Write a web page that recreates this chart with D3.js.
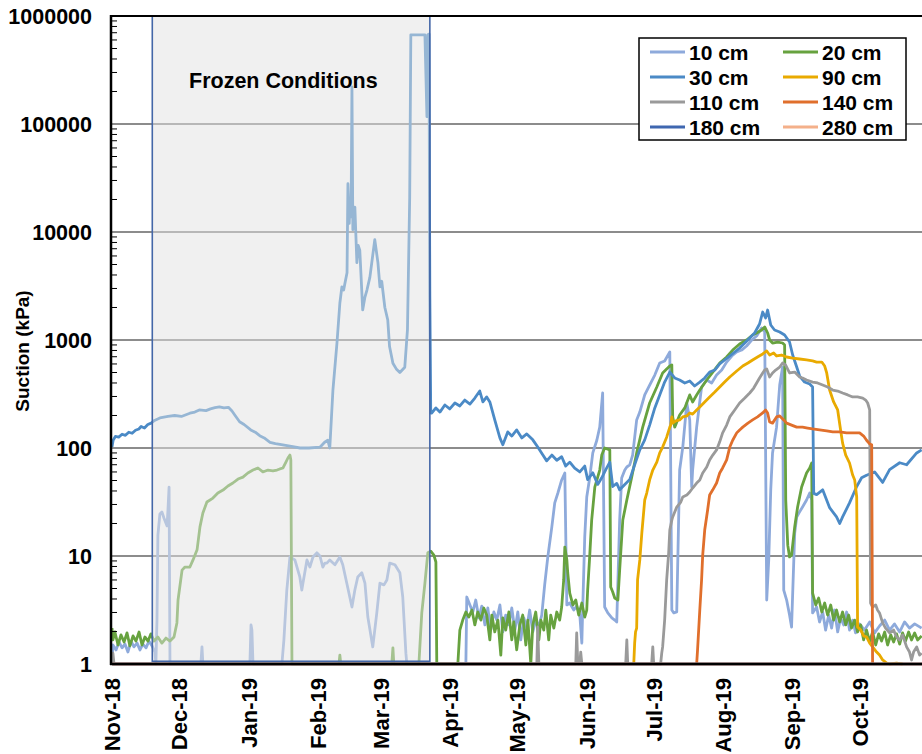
<!DOCTYPE html>
<html>
<head>
<meta charset="utf-8">
<script src="https://cdn.jsdelivr.net/npm/d3@7"></script>
<style>
  body { margin: 0; background: #fff; }
  svg { display: block; font-family: "Liberation Sans", Arial, sans-serif; font-weight: bold; }
</style>
</head>
<body>
<svg id="chart" width="922" height="754"></svg>
<script>
// days since 1 Nov 2018, suction in kPa
var s10 = [[0,1],[0.4,1.5],[1.8,1.35],[3.1,1.6],[4.5,1.41],[5.8,1.53],[7.1,1.29],[8.5,1.63],[9.8,1.44],[11.2,1.56],[12.5,1.35],[13.8,1.53],[15.2,1.41],[16.5,1.63],[17.9,1.47],[19.2,1.29],[19.6,1],
  [20.1,2.55],[20.5,15.6],[21.4,24.5],[22.3,25.6],[23.2,22.5],[24.6,19],[25.0,26.7],[25.5,43.5],[25.9,1],
  [39.7,1],[40.2,1.44],[40.6,1],[61.6,1],[62.1,2.3],[62.5,2.06],[63.0,1],[75.9,1],[76.8,1.67],[78.1,4.84],[79.5,9.8],[81.7,9.2],[83.9,6.4],[84.8,4.84],[85.3,5.6],[87.1,9.2],[88.4,7.9],[89.8,9.8],[91.5,10.7],[92.9,10],[94.2,7.9],[95.1,8.6],[96.0,8.6],[97.3,9.2],[99.6,8.3],[101.8,9.8],[103.1,8.3],[104.9,5.6],[107.2,3.37],[108.5,4.84],[109.8,6.4],[111.6,7.0],[113.0,5.6],[114.3,2.72],[116.5,1.44],[118.3,2.97],[119.7,5.6],[121.5,5.4],[122.8,6.0],[124.1,8.6],[126.4,8.3],[128.6,7.0],[129.9,4.17],[131.3,1.26],[131.7,1],
  [158.1,1],[158.5,4.17],[159.9,3.52],[161.2,3.03],[162.5,3.91],[163.9,2.67],[165.2,3.44],[166.6,2.3],[167.9,3.3],[169.2,2.06],[170.6,3.03],[171.9,2.55],[173.3,3.52],[174.6,1.98],[175.9,2.84],[177.3,2.3],[178.6,3.3],[180.0,2.06],[181.3,3.03],[182.6,1.67],[184.0,2.67],[185.3,2.15],[186.6,3.16],[188.0,1.98],[189.3,2.55],[190.7,2.25],[192.0,2.84],[193.3,5.4],[194.7,9.8],[196.5,18.6],[197.8,31],[199.2,38.3],[200.9,50.6],[202.3,58.7],[203.2,3.52],[204.5,3.67],[206.3,3.16],[207.6,3.44],[209.0,2.84],[209.9,1.56],[210.3,3.3],[211.2,15],[212.1,35.2],[213.4,52.7],[214.8,90],[216.6,118],[217.9,156],[219.2,323],[220.1,3.37],[221.5,2.97],[223.3,2.67],[224.6,2.55],[225.5,2.45],[226.8,21.5],[227.7,52.7],[229.1,62.5],[230.0,66.7],[231.3,69.7],[232.6,86],[234.4,182],[235.8,215],[238.0,310],[240.2,383],[242.5,474],[244.7,612],[246.9,640],[249.2,774],[250.1,3.16],[251.0,2.97],[252.3,3.03],[253.6,62.5],[255.0,102],[256.8,261],[258.1,182],[259.0,43.5],[259.4,62.5],[261.2,156],[263.4,367],[265.7,426],[267.9,400],[270.1,474],[272.4,527],[274.6,625],[276.9,711],[279.1,774],[281.3,807],[283.5,880],[285.8,1000],[288.0,1089],[290.2,1292],[291.6,1186],[292.5,3.91],[293.4,9.2],[294.3,41],[295.1,90],[296.9,156],[298.3,383],[299.6,562],[300.1,4.84],[301.4,3.91],[302.7,2.84],[303.6,2.2],[305.0,16.3],[305.9,23],[307.2,25.6],[308.5,28.4],[310.3,33],[311.7,38.3],[312.6,33],[313.0,2.97],[314.8,3.37],[316.1,2.45],[317.5,3.03],[318.8,2.06],[320.2,2.84],[321.5,2.15],[322.8,3.16],[324.2,1.98],[325.5,2.67],[326.9,2.3],[328.2,3.03],[329.5,2.06],[330.9,2.55],[332.2,1.94],[334.0,2.35],[336.2,2.06],[338.5,2.45],[340.7,1.94],[342.9,2.25],[345.2,2.55],[347.4,2.06],[349.6,2.35],[351.9,1.98],[354.1,2.45],[356.3,2.15],[358.6,2.35],[361.7,2.15]];

var s20 = [[0,2.15],[0.4,1.67],[1.3,1.98],[2.7,1.5],[4.0,1.86],[5.4,1.6],[6.7,1.94],[8.0,1.47],[9.4,1.82],[10.7,1.63],[12.1,1.98],[13.4,1.5],[14.7,1.78],[16.1,1.63],[17.4,1.9],[18.8,1.63],
  [20.5,1.78],[22.3,1.56],[24.1,1.74],[25.9,1.63],[27.7,1.78],[29.0,2.4],[29.5,3.91],[31.3,7.4],[32.6,7.9],[34.8,7.9],[36.2,9.2],[38.0,11.4],[39.3,18.6],[40.6,25],[42.4,31.6],[45.1,34.4],[47.3,38.3],[49.6,40.8],[51.8,44.5],[54.0,47.4],[56.3,51.6],[58.5,53.8],[60.7,58.7],[63.0,62.5],[65.2,65.3],[67.4,60],[69.7,62.5],[71.9,61.3],[73.7,62.5],[75.0,64],[76.4,65.3],[77.7,74],[78.6,80.8],[79.5,86],[79.9,77.5],[80.4,1],
  [101.4,1],[101.8,1.21],[102.2,1],[125.0,1],[125.5,1.41],[125.9,1],[137.1,1],[138.4,2.97],[139.8,5.6],[141.1,10.7],[142.4,11.1],[143.8,10.2],[144.7,8.8],[145.1,1],
  [154.5,1],[155.4,2.06],[156.7,2.55],[158.1,3.03],[159.4,2.72],[160.8,3.16],[162.1,2.3],[163.4,3.03],[164.8,2.55],[166.1,3.3],[167.4,2.84],[168.8,1.67],[169.7,2.84],[171.0,1.98],[172.4,2.55],[173.7,1.21],[174.6,2.67],[175.9,2.06],[177.3,3.03],[178.6,1.67],[179.5,2.45],[180.8,1.35],[182.2,2.3],[183.5,2.84],[184.9,1.5],[185.8,2.55],[187.1,1],[188.0,2.3],[189.3,3.03],[190.7,1.67],[191.6,2.55],[192.9,2.06],[193.8,3.16],[195.1,1.67],[196.0,2.84],[197.4,2.15],[198.7,3.03],[200.0,2.55],[200.9,3.37],[201.8,6.0],[202.3,12.1],[203.2,9.2],[203.6,7.0],[204.5,4.54],[205.9,3.52],[207.2,3.91],[208.5,2.84],[209.9,3.67],[211.2,2.72],[212.1,3.16],[212.5,4.84],[213.4,9.8],[214.3,21.5],[215.7,43.5],[217.9,62.5],[218.8,86],[220.1,100],[222.4,96],[222.8,5.16],[223.7,4.64],[224.6,4.08],[226.0,3.91],[226.8,7.4],[228.2,21.5],[230.0,33],[232.2,53.8],[234.4,90],[237.1,156],[240.2,261],[243.4,367],[246.0,495],[247.8,539],[249.2,574],[250.1,587],[250.5,194],[251.4,156],[253.6,202],[255.9,235],[258.1,310],[259.4,267],[261.2,310],[262.6,344],[265.7,426],[268.4,505],[271.5,612],[274.6,696],[277.3,807],[280.4,918],[283.5,1000],[286.2,1112],[288.0,1161],[290.2,1238],[291.6,1320],[292.9,1161],[293.8,1000],[295.1,938],[297.4,958],[299.6,938],[300.5,899],[301.0,33],[301.9,12.6],[302.7,9.8],[303.6,10.2],[305.0,18.6],[306.3,28.4],[308.1,43.5],[310.3,58.7],[311.7,65.3],[312.6,72.6],[313.0,4.54],[314.4,3.52],[315.7,4.08],[317.1,3.03],[318.4,3.67],[319.7,2.84],[321.1,3.52],[322.4,2.55],[323.7,3.16],[325.1,2.45],[326.4,3.03],[327.8,2.3],[329.1,2.84],[330.4,2.15],[331.8,2.55],[333.1,1.98],[334.5,2.3],[335.8,1.67],[337.1,2.06],[338.5,1.6],[339.8,1.98],[341.2,1.5],[342.5,1.9],[343.8,1.63],[345.2,1.98],[346.5,1.5],[347.9,1.86],[349.2,1.6],[350.5,1.9],[351.9,1.53],[353.2,1.94],[354.5,1.63],[355.9,1.98],[357.2,1.67],[358.6,1.94],[359.9,1.67],[361.7,1.82]];

var s30 = [[0,102],[0.5,118],[1.5,128],[3,126],[4.5,134],[6,131],[7.5,140],[9,137],[10.5,146],[12,150],[13,158],[14.5,153],[16,165],[17.5,170],[19,180],
  [21.4,190],[25,196],[28,200],[31,196],[34.8,210],[37,215],[39,225],[42,222],[44,230],[46,236],[48,240],[50,235],[52,238],[53.6,220],[55,200],[57,175],[59,165],[62,147],[64,140],[66,130],[68,124],[70.6,113],[73,110],[75,108],[79.5,104],[84,100],[88,100],[93,102],[95,113],[96.4,118],[97.3,100],[98.7,344],[100.5,935],[101.8,2200],[102.7,3100],[103.5,2900],[104,3300],[105,4200],[105.4,28000],[106,12000],[106.3,20000],[106.8,13800],[107.2,220000],[107.6,10500],[108.5,17000],[109.4,5200],[110,7500],[110.7,6800],[112,1900],[113,2500],[113.9,2900],[115.2,3800],[117.4,8500],[118.8,5200],[119.7,3100],[120.5,3500],[121.9,2000],[123.2,1530],[124,870],[125.5,610],[127,540],[128.6,500],[130.8,560],[132,1250],[133,21000],[133.5,670000],[139.8,670000],[140.7,117000],[141.1,670000],[141.6,680000],[142,2500],[142.4,211],
  [142.9,211],[144.7,235],[146.5,215],[148.7,250],[150.9,230],[153.2,261],[155.4,245],[157.6,278],[159.9,255],[162.1,290],[164.3,337],[165.7,267],[167.4,297],[168.8,267],[171.0,182],[173.3,124],[174.6,107],[176.8,141],[178.6,129],[180.8,147],[183.1,124],[185.3,135],[188.0,119],[190.2,102],[192.5,86],[194.2,76],[196.5,86],[198.7,77],[200.9,83],[202.7,68],[204.5,74],[206.7,65],[209.0,60],[211.2,68],[212.5,51],[214.8,59],[217.0,46],[218.8,53],[220.6,63],[222.4,74],[223.7,44],[225.5,47],[226.8,41],[229.1,46],[231.3,51],[233.5,70],[235.8,96],[238.0,119],[240.2,163],[242.5,235],[244.7,310],[246.9,408],[249.2,505],[251.4,445],[253.6,426],[255.9,400],[258.1,417],[260.3,375],[262.6,408],[264.8,445],[267.0,505],[269.3,527],[271.5,600],[273.7,653],[276.0,711],[278.2,774],[280.4,843],[282.7,938],[284.9,1044],[287.1,1161],[289.3,1407],[290.7,1816],[292.0,1600],[292.9,1896],[294.3,1377],[296.0,1238],[298.3,1186],[300.5,1112],[302.7,958],[304.1,726],[305.9,562],[307.2,464],[309.4,408],[311.7,391],[313.0,367],[313.5,38],[314.8,37],[317.5,41],[320.6,28],[323.7,23],[325.1,20],[326.4,23],[329.5,31],[332.7,44],[334.9,53],[337.1,56],[340.7,60],[344.3,48],[347.4,63],[351.9,73],[355.0,70],[359.5,90],[361.7,96]];

var s90 = [[233.1,1],[233.5,1.56],[233.9,1.98],[234.4,2.15],[234.8,6.0],[235.8,9.2],[236.7,16.3],[238.0,33],[238.9,38.3],[240.2,50.6],[241.6,62.5],[243.4,74],[244.7,90],[246.0,102],[247.8,126],[249.2,156],[249.6,163],[250.1,194],[250.5,170],[251.9,178],[253.6,182],[255.0,194],[256.8,198],[258.1,211],[259.4,206],[261.2,225],[262.6,240],[264.8,267],[267.0,297],[269.3,330],[271.5,367],[273.7,408],[276.0,454],[279.1,516],[281.8,574],[284.1,612],[286.2,653],[288.4,696],[290.7,742],[292.5,791],[293.8,726],[295.6,758],[296.9,711],[299.1,726],[301.4,696],[304.1,681],[307.2,667],[310.3,653],[313.0,640],[314.8,625],[317.1,625],[318.4,574],[319.3,495],[320.6,344],[322.4,267],[324.2,225],[325.5,147],[326.4,111],[327.8,86],[329.5,72.6],[330.9,56.2],[331.8,50.6],[332.7,35.2],[333.1,2.2],[334.5,2.06],[335.8,1.82],[337.1,1.78],[338.5,1.56],[339.8,1.44],[341.6,1.29],[342.9,1.21],[344.3,1.09],[346.1,1.02],[347.4,1],[350.5,1.02],[353.2,1]];

var s110 = [[0,1],[0.4,1.26],[0.9,1],[189.8,1],[190.2,2.2],[190.7,1],[207.2,1],[207.6,1.94],[208.1,1],[209.0,1],[209.4,1.29],[209.9,1],[229.5,1],[230.0,1.67],[230.4,1],[241.1,1],[241.6,1.44],[242.0,1],
  [245.1,1],[245.6,1.26],[246.0,1.44],[246.9,2.55],[247.8,6.0],[248.7,10.7],[249.2,17.4],[250.1,21.5],[250.5,23],[252.3,28.4],[254.1,31.6],[255.0,35.2],[256.8,36.7],[258.1,39.1],[259.4,42.6],[261.2,47.4],[262.6,50.6],[263.9,58.7],[265.7,66.7],[267.0,77.5],[268.4,86],[270.1,96],[271.5,114],[272.8,138],[274.6,163],[276.0,194],[278.2,225],[280.4,261],[282.7,290],[284.9,323],[286.7,359],[288.0,400],[289.3,445],[290.7,495],[291.6,527],[292.5,539],[293.8,454],[295.1,495],[296.5,527],[298.3,562],[299.6,612],[300.9,587],[302.7,495],[305.0,505],[307.2,454],[308.5,445],[310.3,426],[313.0,408],[315.2,400],[317.5,383],[319.7,367],[322.0,344],[324.2,337],[326.4,323],[328.7,310],[330.9,297],[333.1,297],[335.4,290],[336.7,278],[337.6,261],[338.5,225],[338.9,3.67],[339.8,3.37],[341.2,3.52],[342.0,3.16],[342.9,2.97],[344.3,2.4],[345.6,2.15],[347.4,1.94],[349.2,2.06],[350.5,1.78],[351.9,1.67],[353.2,1.86],[355.0,1.44],[356.3,1.29],[357.2,1.09],[358.1,1.29],[359.5,1.44],[360.8,1.21],[361.7,1.26]];

var s140 = [[261.2,1],[261.6,1.35],[262.6,3.16],[263.4,6.0],[263.9,10.2],[264.8,17.4],[266.1,26.7],[267.0,36.7],[268.4,41],[270.1,47.4],[271.5,58.7],[272.8,65.3],[274.6,77.5],[276.0,102],[277.3,118],[279.1,138],[280.4,147],[281.8,156],[284.1,170],[286.2,182],[288.4,194],[290.7,211],[292.0,225],[292.9,211],[293.8,174],[295.1,170],[296.9,194],[298.3,198],[300.1,182],[301.4,170],[303.6,163],[305.9,156],[308.5,156],[310.8,153],[313.0,150],[316.1,147],[319.3,144],[322.0,141],[325.1,141],[328.2,138],[330.9,138],[334.0,138],[335.8,129],[337.1,118],[338.5,109],[339.4,107],[339.8,1]];

var s180 = [[0,1],[365,1]];
var s280 = [[0,1],[365,1]];

var seriesNames = ["10 cm", "20 cm", "30 cm", "90 cm", "110 cm", "140 cm", "180 cm", "280 cm"];
var seriesColors = ["#8eaadb", "#67a23f", "#4b8ac6", "#e9aa00", "#9a9a9a", "#e06f2c", "#3f67b0", "#f4b08a"];
var seriesData = [s10, s20, s30, s90, s110, s140, s180, s280];

var tickMonths = ["Nov-18", "Dec-18", "Jan-19", "Feb-19", "Mar-19", "Apr-19", "May-19", "Jun-19", "Jul-19", "Aug-19", "Sep-19", "Oct-19"];
var yTicks = [1, 10, 100, 1000, 10000, 100000, 1000000];

var frozenStart = "2018-11-19", frozenEnd = "2019-03-23";
var frozenLabel = "Frozen Conditions";

(function() {
  var t0 = new Date(2018, 10, 1);
  var toDate = function(d) { return new Date(t0.getTime() + d * 864e5) };

  var svg = d3.select("#chart");
  var plotLeft = 112, plotTop = 16, plotBottom = 664;

  var x = d3.scaleTime()
    .domain([t0, new Date(2019, 10, 1)])
    .range([plotLeft, 929]);

  var y = d3.scaleLog()
    .domain([1, 1000000])
    .range([plotBottom, plotTop]);

  svg.append("defs").append("clipPath").attr("id", "plotclip")
    .append("rect").attr("x", plotLeft).attr("y", plotTop - 2)
    .attr("width", 830).attr("height", plotBottom - plotTop + 4);

  // grid
  svg.append("g").selectAll("line")
    .data(yTicks.slice(1, -1))
    .enter().append("line")
    .attr("x1", plotLeft).attr("x2", 922)
    .attr("y1", function(d) { return y(d) }).attr("y2", function(d) { return y(d) })
    .attr("stroke", "#666").attr("stroke-width", 1.4);

  // series
  var line = d3.line()
    .x(function(d) { return x(toDate(d[0])) })
    .y(function(d) { return y(Math.max(d[1], 1)) });

  svg.append("g").attr("clip-path", "url(#plotclip)")
    .selectAll("path")
    .data(seriesData)
    .enter().append("path")
    .attr("d", line)
    .attr("fill", "none")
    .attr("stroke", function(d, i) { return seriesColors[i] })
    .attr("stroke-width", 2.8)
    .attr("stroke-linejoin", "round");

  // frozen period box
  var parseDay = d3.timeParse("%Y-%m-%d");
  svg.append("rect")
    .attr("x", x(parseDay(frozenStart)))
    .attr("y", y(1000000))
    .attr("width", x(parseDay(frozenEnd)) - x(parseDay(frozenStart)))
    .attr("height", y(1.06) - y(1000000))
    .attr("fill", "#e1e1e1").attr("fill-opacity", 0.5)
    .attr("stroke", "#4467a8").attr("stroke-width", 1.6);

  svg.append("text")
    .attr("x", 189).attr("y", 88)
    .attr("font-size", 21.5)
    .text(frozenLabel);

  // y axis, minor ticks inside
  var minor = [];
  yTicks.slice(0, -1).forEach(function(t) {
    for (var k = 2; k <= 9; k++) minor.push(t * k);
  });
  svg.append("g").selectAll("line")
    .data(minor)
    .enter().append("line")
    .attr("x1", plotLeft).attr("x2", plotLeft + 5)
    .attr("y1", function(d) { return y(d) }).attr("y2", function(d) { return y(d) })
    .attr("stroke", "#000").attr("stroke-width", 1);

  svg.append("g").selectAll("text")
    .data(yTicks)
    .enter().append("text")
    .attr("x", 92)
    .attr("y", function(d) { return y(d) + 7.5 })
    .attr("text-anchor", "end")
    .attr("font-size", 21.5)
    .text(function(d) { return d });

  svg.append("line").attr("x1", plotLeft - 1).attr("x2", plotLeft - 1)
    .attr("y1", plotTop - 1).attr("y2", plotBottom + 1)
    .attr("stroke", "#000").attr("stroke-width", 2.5);
  svg.append("line").attr("x1", plotLeft - 2).attr("x2", 922)
    .attr("y1", plotBottom).attr("y2", plotBottom)
    .attr("stroke", "#000").attr("stroke-width", 2.5);
  svg.append("line").attr("x1", plotLeft - 2).attr("x2", 922)
    .attr("y1", plotTop).attr("y2", plotTop)
    .attr("stroke", "#000").attr("stroke-width", 2);

  // x tick labels
  var parseMonth = d3.timeParse("%b-%y");
  svg.append("g").selectAll("text")
    .data(tickMonths)
    .enter().append("text")
    .attr("transform", function(d) { return "translate(" + (x(parseMonth(d)) + 8) + ",678) rotate(-90)" })
    .attr("text-anchor", "end")
    .attr("font-size", 22)
    .text(function(d) { return d });

  svg.append("text")
    .attr("transform", "translate(29,351) rotate(-90)")
    .attr("text-anchor", "middle")
    .attr("font-size", 19)
    .text("Suction (kPa)");

  // legend
  var lg = svg.append("g");
  lg.append("rect").attr("x", 639).attr("y", 38).attr("width", 267).attr("height", 102)
    .attr("fill", "#fff").attr("stroke", "#000").attr("stroke-width", 1.5);
  var item = lg.selectAll("g.item")
    .data(seriesNames)
    .enter().append("g")
    .attr("class", "item")
    .attr("transform", function(d, i) { return "translate(" + (i % 2 ? 783 : 650) + "," + (52 + Math.floor(i / 2) * 25) + ")" });
  item.append("line").attr("x1", 0).attr("x2", 35)
    .attr("stroke", function(d, i) { return seriesColors[i] }).attr("stroke-width", 3);
  item.append("text").attr("x", 39).attr("y", 7.5).attr("font-size", 21)
    .text(function(d) { return d });
})();
</script>
</body>
</html>
